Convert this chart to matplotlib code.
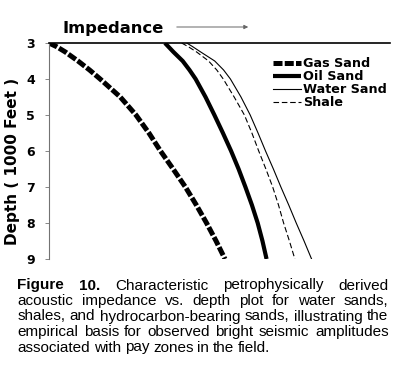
import matplotlib.pyplot as plt
from matplotlib.patches import FancyArrowPatch

# depth in 1000 ft, impedance in arbitrary units (0-100 across the axis)
depth = [3, 3.1, 3.25, 3.5, 3.75, 4, 4.5, 5, 5.5, 6, 6.5, 7, 7.5, 8, 8.5, 9]
gas_sand = [0, 2.2, 4.8, 8.5, 11.9, 15.0, 20.9, 25.5, 29.3, 32.7, 36.4,
            40.0, 43.2, 46.2, 49.0, 51.6]
oil_sand = [34.0, 35.0, 36.5, 39.2, 41.2, 43.0, 45.9, 48.5, 51.0, 53.4,
            55.6, 57.6, 59.5, 61.2, 62.6, 63.8]
water_sand = [40.4, 42.1, 44.5, 48.6, 51.2, 53.2, 56.3, 59.0, 61.3, 63.5,
              65.8, 68.0, 70.3, 72.5, 74.8, 77.0]
shale = [38.9, 40.8, 43.3, 46.8, 49.2, 51.1, 54.3, 57.3, 59.5, 61.5, 63.6,
         65.6, 67.3, 68.8, 70.5, 72.1]
depth_ticks = [3, 4, 5, 6, 7, 8, 9]

caption_lines = [
    "Characteristic petrophysically derived",
    "acoustic impedance vs. depth plot for water sands,",
    "shales, and hydrocarbon-bearing sands, illustrating the",
    "empirical basis for observed bright seismic amplitudes",
    "associated with pay zones in the field.",
]

W, H = 400, 376
fig = plt.figure(figsize=(W / 100, H / 100), dpi=100)
fig.patch.set_facecolor('white')

def fx(px):
    return px / W

def fy(py):
    return 1 - py / H

ax = fig.add_axes([fx(49), fy(259), (390 - 49) / W, (259 - 43) / H])

lab = 'DejaVu Sans'
ax.plot(gas_sand, depth, color='black', lw=3.6, dashes=[1.8, 0.45],
        dash_capstyle='butt', label='Gas Sand')
ax.plot(oil_sand, depth, color='black', lw=3.0, solid_capstyle='butt',
        label='Oil Sand')
ax.plot(water_sand, depth, color='black', lw=0.8, label='Water Sand')
ax.plot(shale, depth, color='black', lw=0.8, dashes=[5, 2.5],
        label='Shale')

ax.set_xlim(0, 100)
ax.set_ylim(9, 3)
ax.set_xticks([])
ax.set_yticks(depth_ticks)
ax.set_yticklabels([str(t) for t in depth_ticks], fontfamily=lab,
                   fontweight='bold', fontsize=9)
ax.tick_params(axis='y', length=3, width=0.6, color='0.45', pad=7)

ax.spines['right'].set_visible(False)
ax.spines['bottom'].set_visible(False)
ax.spines['top'].set_color('black')
ax.spines['top'].set_linewidth(1.2)
ax.spines['left'].set_color('0.45')
ax.spines['left'].set_linewidth(0.8)

leg = ax.legend(loc='upper left', bbox_to_anchor=(fx(273), fy(57)),
                bbox_transform=fig.transFigure, frameon=False,
                prop={'family': lab, 'weight': 'bold', 'size': 9.2},
                handlelength=2.2, handletextpad=0.15, labelspacing=0.0,
                borderpad=0, borderaxespad=0)

fig.text(fx(13), fy(161), 'Depth ( 1000 Feet )', rotation=90,
         ha='center', va='center', fontfamily=lab, fontweight='bold',
         fontsize=11)

fig.text(fx(62), fy(33), 'Impedance', ha='left', va='baseline',
         fontfamily=lab, fontweight='bold', fontsize=11.8)
fig.patches.append(FancyArrowPatch(
    (fx(174), fy(27)), (fx(251), fy(27)), transform=fig.transFigure,
    arrowstyle='-|>', mutation_scale=6, color='0.4', lw=0.7))

# caption, justified like the printed page
cap_font = 'Liberation Sans'
cap_size = 11
left, right = 17.3, 388.5
baselines = [289.5, 305, 320.5, 336, 351.5]
renderer = fig.canvas.get_renderer()

for i, line in enumerate(caption_lines):
    pieces = []
    if i == 0:
        pieces.append(('Figure', 'bold'))
        pieces.append(('10.', 'bold'))
    pieces += [(w, 'normal') for w in line.split(' ')]
    texts = []
    widths = []
    for word, weight in pieces:
        t = fig.text(0, fy(baselines[i]), word, ha='left', va='baseline',
                     fontfamily=cap_font, fontweight=weight,
                     fontsize=cap_size)
        texts.append(t)
        widths.append(t.get_window_extent(renderer).width)
    if i < len(caption_lines) - 1:
        gap = (right - left - sum(widths)) / (len(pieces) - 1)
    else:
        gap = 3.8
    x = left
    for t, w in zip(texts, widths):
        t.set_x(fx(x))
        x += w + gap

fig.savefig('out.png', dpi=100, facecolor='white')
